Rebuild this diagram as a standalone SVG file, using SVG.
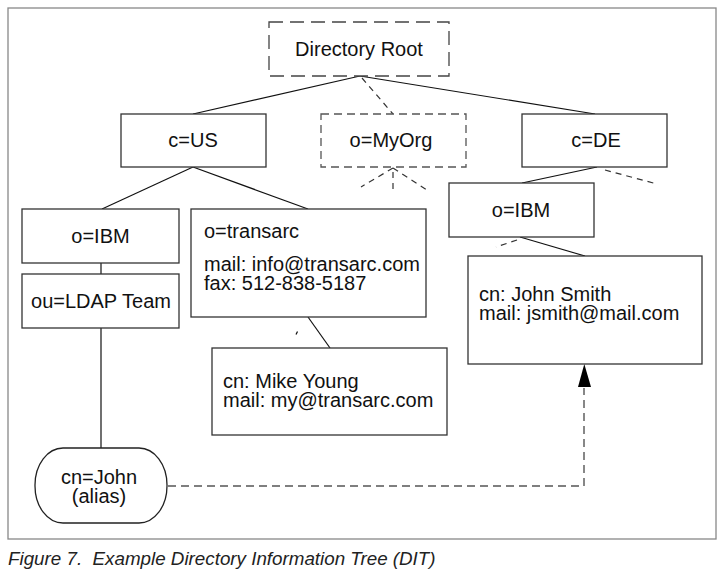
<svg xmlns="http://www.w3.org/2000/svg" width="726" height="579" viewBox="0 0 726 579">
<defs>
<style>
.box{fill:#fff;stroke:#333;stroke-width:1.3}
.dbox1{fill:#fff;stroke:#444;stroke-width:1.3;stroke-dasharray:14,7}
.dbox2{fill:#fff;stroke:#555;stroke-width:1.3;stroke-dasharray:8,5}
.t{font-family:"Liberation Sans",Arial,Helvetica,sans-serif;font-size:20px;fill:#111}
.c{text-anchor:middle}
.ln{fill:none;stroke:#111;stroke-width:1.2}
.dl{fill:none;stroke:#333;stroke-width:1.2;stroke-dasharray:6,5}
.al{fill:none;stroke:#555;stroke-width:1.4;stroke-dasharray:8,5}
</style>
</defs>
<rect x="0" y="0" width="726" height="579" fill="#fff"/>
<rect id="frame" x="8" y="8" width="708" height="531" fill="none" stroke="#888" stroke-width="1.3"/>

<g id="connectors">
<line class="ln" x1="360" y1="76" x2="193" y2="114"/>
<line class="ln" x1="360" y1="76" x2="595" y2="114"/>
<line class="dl" x1="362" y1="78" x2="393" y2="114"/>
<line class="dl" x1="393" y1="168" x2="361" y2="187"/>
<line class="dl" x1="393" y1="172" x2="393" y2="189"/>
<line class="dl" x1="393" y1="168" x2="427" y2="190"/>
<line class="ln" x1="193" y1="167" x2="102" y2="209"/>
<line class="ln" x1="193" y1="167" x2="308" y2="209"/>
<line class="ln" x1="597" y1="167" x2="522" y2="183"/>
<line class="dl" x1="605" y1="170" x2="657" y2="184"/>
<line class="ln" x1="101" y1="263" x2="101" y2="274"/>
<line class="ln" x1="101" y1="328" x2="101" y2="448"/>
<line class="ln" x1="308" y1="317" x2="330" y2="348"/>
<line class="ln" x1="297.5" y1="331.5" x2="296" y2="334.5"/>
<line class="ln" x1="520" y1="237" x2="585" y2="256"/>
<line class="dl" x1="517" y1="240" x2="496" y2="247"/>
<path class="al" d="M168,486 H584 V388"/>
<polygon points="584.3,364 591,387 578,387" fill="#000"/>
</g>

<g id="root">
<rect class="dbox1" x="269" y="22" width="180" height="54"/>
<text class="t c" x="359" y="56">Directory Root</text>
</g>
<g id="cUS">
<rect class="box" x="121" y="114" width="145" height="53"/>
<text class="t c" x="193" y="147">c=US</text>
</g>
<g id="oMyOrg">
<rect class="dbox2" x="321" y="114" width="145" height="53"/>
<text class="t c" x="391" y="147">o=MyOrg</text>
</g>
<g id="cDE">
<rect class="box" x="522" y="114" width="145" height="53"/>
<text class="t c" x="596" y="147">c=DE</text>
</g>
<g id="oIBM1">
<rect class="box" x="22" y="209" width="157" height="54"/>
<text class="t c" x="100.5" y="243">o=IBM</text>
</g>
<g id="ouLDAP">
<rect class="box" x="22" y="274" width="157" height="54"/>
<text class="t c" x="101" y="308">ou=LDAP Team</text>
</g>
<g id="oTransarc">
<rect class="box" x="191" y="209" width="235" height="108"/>
<text class="t" x="204" y="238">o=transarc</text>
<text class="t" x="204" y="271">mail: info@transarc.com</text>
<text class="t" x="204" y="290">fax: 512-838-5187</text>
</g>
<g id="mikeYoung">
<rect class="box" x="212" y="348" width="235" height="87"/>
<text class="t" x="223" y="388">cn: Mike Young</text>
<text class="t" x="223" y="407">mail: my@transarc.com</text>
</g>
<g id="oIBM2">
<rect class="box" x="449" y="183" width="145" height="54"/>
<text class="t c" x="521" y="217">o=IBM</text>
</g>
<g id="johnSmith">
<rect class="box" x="468" y="256" width="234" height="108"/>
<text class="t" x="479" y="301">cn: John Smith</text>
<text class="t" x="479" y="320">mail: jsmith@mail.com</text>
</g>
<g id="cnJohn">
<rect x="35" y="448" width="132" height="75" rx="28" ry="37" fill="#fff" stroke="#222" stroke-width="1.3"/>
<text class="t c" x="99" y="484">cn=John</text>
<text class="t c" x="99" y="503">(alias)</text>
</g>
<text x="8" y="565" xml:space="preserve" font-family="Liberation Sans,Arial,Helvetica,sans-serif" font-size="18.8" font-style="italic" fill="#222">Figure 7.  Example Directory Information Tree (DIT)</text>
</svg>
